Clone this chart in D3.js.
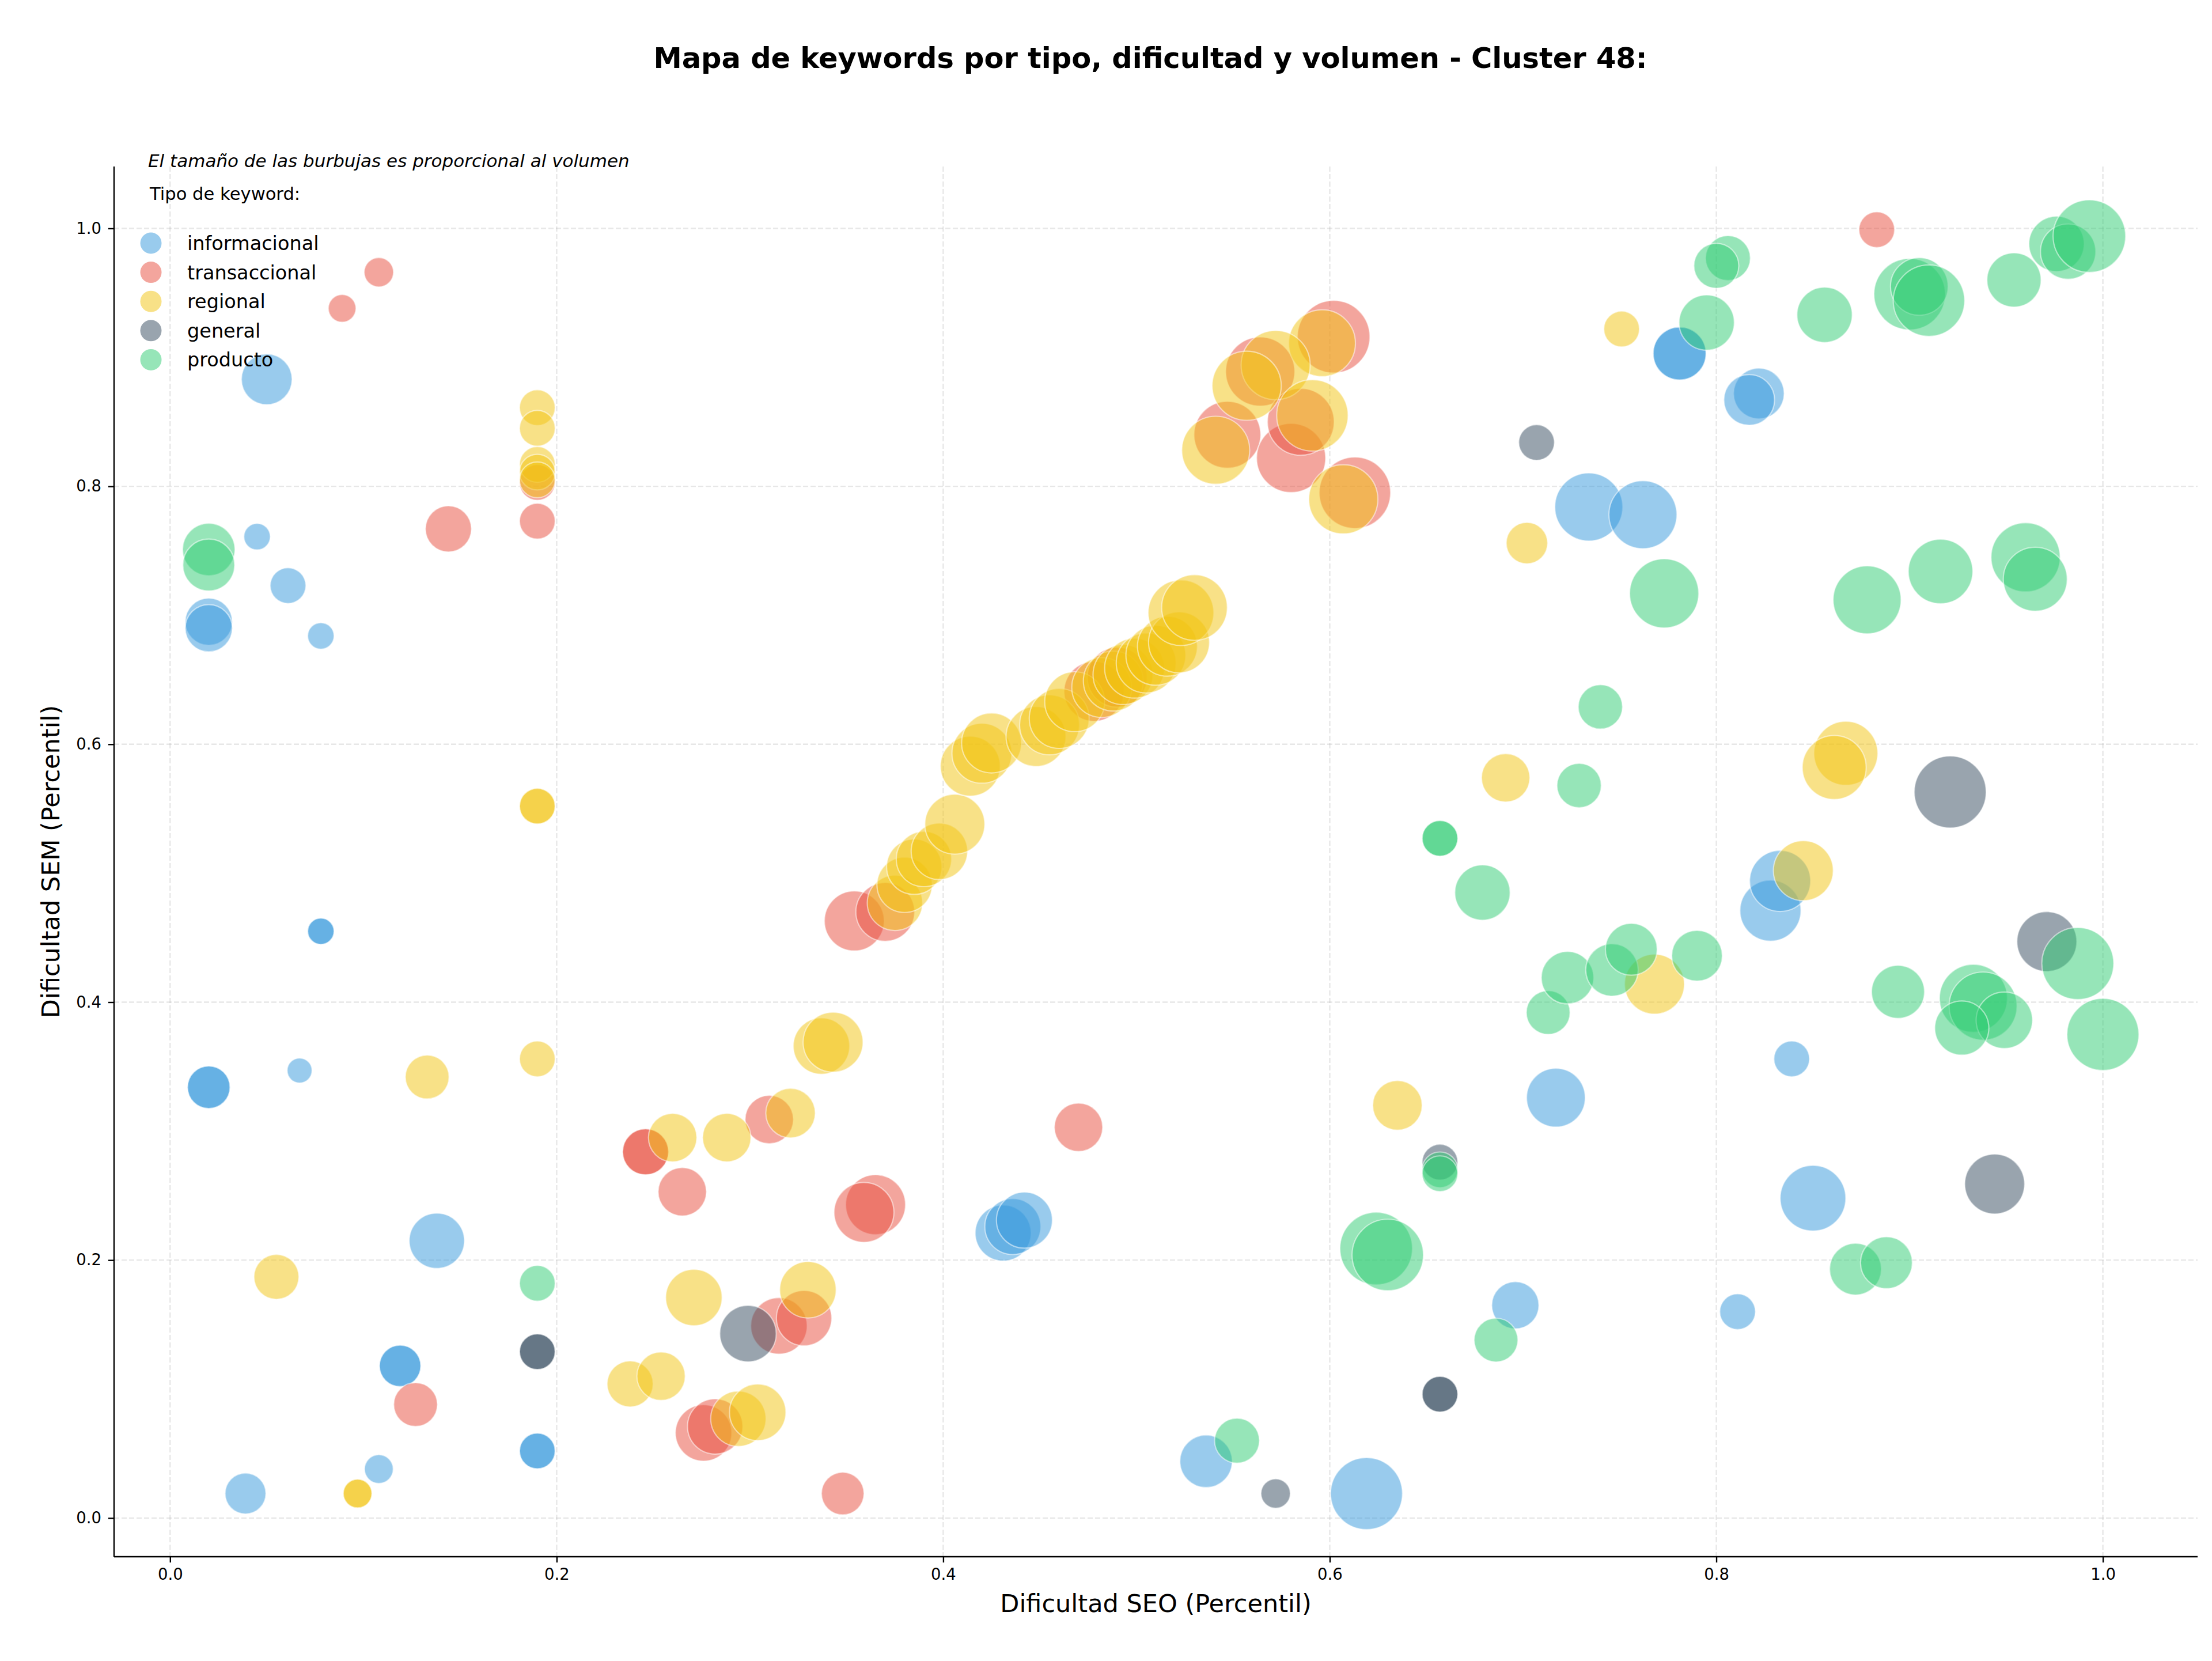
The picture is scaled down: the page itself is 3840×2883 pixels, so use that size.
<!DOCTYPE html>
<html>
<head>
<meta charset="utf-8">
<script src="https://cdn.jsdelivr.net/npm/d3@7"></script>
<style>
	body { margin: 0; background: #fff; }
	text { font-family: "DejaVu Sans", sans-serif; }
</style>
</head>
<body>
<div id="chart-area"></div>
<script>
/*
*    Mapa de keywords - Cluster 48
*    bubble chart: dificultad SEO vs SEM, size = volumen
*/

// [dificultad SEO, dificultad SEM, volumen]
const informacional = [
	[0.050, 0.883, 484], [0.045, 0.761, 132], [0.020, 0.695, 420], [0.020, 0.690, 420],
	[0.061, 0.723, 240], [0.078, 0.684, 132], [0.078, 0.455, 132], [0.078, 0.455, 132],
	[0.020, 0.334, 342], [0.020, 0.334, 342], [0.067, 0.347, 117], [0.138, 0.215, 576],
	[0.119, 0.118, 324], [0.119, 0.118, 324], [0.190, 0.052, 240], [0.190, 0.052, 240],
	[0.108, 0.038, 156], [0.039, 0.019, 315], [0.431, 0.221, 590], [0.436, 0.226, 590],
	[0.442, 0.231, 590], [0.536, 0.044, 518], [0.619, 0.019, 976], [0.717, 0.326, 650],
	[0.696, 0.165, 420], [0.828, 0.471, 702], [0.833, 0.494, 702], [0.839, 0.356, 240],
	[0.850, 0.248, 812], [0.811, 0.160, 240], [0.781, 0.903, 529], [0.781, 0.903, 529],
	[0.822, 0.872, 484], [0.817, 0.867, 484], [0.734, 0.784, 870], [0.762, 0.778, 870]
]

const transaccional = [
	[0.108, 0.966, 163], [0.089, 0.938, 144], [0.190, 0.803, 240], [0.190, 0.773, 240],
	[0.144, 0.767, 400], [0.246, 0.284, 400], [0.246, 0.284, 400], [0.310, 0.309, 441],
	[0.265, 0.253, 441], [0.127, 0.088, 361], [0.315, 0.149, 600], [0.328, 0.155, 576],
	[0.276, 0.066, 600], [0.282, 0.071, 576], [0.348, 0.019, 342], [0.365, 0.243, 676],
	[0.359, 0.237, 676], [0.470, 0.303, 441], [0.354, 0.463, 676], [0.370, 0.470, 650],
	[0.478, 0.641, 676], [0.490, 0.652, 676], [0.602, 0.916, 992], [0.564, 0.889, 900],
	[0.547, 0.840, 841], [0.580, 0.822, 900], [0.585, 0.850, 841], [0.613, 0.795, 961],
	[0.883, 0.999, 240]
]

const regional = [
	[0.190, 0.861, 240], [0.190, 0.845, 240], [0.190, 0.817, 240], [0.190, 0.811, 240],
	[0.190, 0.805, 240], [0.190, 0.552, 240], [0.190, 0.552, 240], [0.133, 0.342, 361],
	[0.190, 0.356, 240], [0.260, 0.295, 441], [0.288, 0.295, 441], [0.321, 0.314, 462],
	[0.055, 0.187, 380], [0.097, 0.019, 156], [0.097, 0.019, 156], [0.238, 0.104, 400],
	[0.254, 0.110, 441], [0.271, 0.171, 600], [0.330, 0.177, 600], [0.294, 0.077, 576],
	[0.304, 0.082, 600], [0.337, 0.366, 600], [0.343, 0.369, 676],
	[0.375, 0.477, 576], [0.380, 0.491, 576], [0.385, 0.505, 576], [0.390, 0.511, 576],
	[0.398, 0.517, 600], [0.406, 0.538, 676], [0.414, 0.583, 676], [0.420, 0.593, 676],
	[0.425, 0.601, 676], [0.448, 0.606, 676], [0.455, 0.615, 676], [0.460, 0.620, 676],
	[0.468, 0.633, 676], [0.482, 0.644, 676], [0.488, 0.649, 676], [0.493, 0.654, 676],
	[0.499, 0.659, 676], [0.505, 0.663, 676], [0.510, 0.669, 676], [0.516, 0.676, 676],
	[0.522, 0.679, 700], [0.523, 0.702, 812], [0.530, 0.706, 812],
	[0.596, 0.911, 841], [0.572, 0.894, 900], [0.557, 0.878, 900], [0.541, 0.828, 870],
	[0.591, 0.855, 961], [0.607, 0.790, 900], [0.635, 0.320, 462], [0.751, 0.922, 240],
	[0.702, 0.756, 324], [0.691, 0.574, 441], [0.867, 0.593, 770], [0.861, 0.582, 770],
	[0.845, 0.502, 676], [0.768, 0.414, 676]
]

const general = [
	[0.190, 0.129, 240], [0.190, 0.129, 240], [0.299, 0.143, 600], [0.572, 0.019, 163],
	[0.657, 0.276, 240], [0.657, 0.096, 240], [0.657, 0.096, 240], [0.707, 0.834, 240],
	[0.921, 0.563, 976], [0.971, 0.447, 676], [0.944, 0.259, 676]
]

const producto = [
	[0.020, 0.751, 518], [0.020, 0.739, 506], [0.190, 0.182, 240], [0.552, 0.060, 380],
	[0.624, 0.209, 992], [0.630, 0.204, 961], [0.657, 0.270, 240], [0.657, 0.267, 240],
	[0.657, 0.527, 240], [0.657, 0.527, 240], [0.679, 0.485, 576], [0.686, 0.138, 361],
	[0.713, 0.392, 361], [0.723, 0.419, 518], [0.746, 0.425, 518], [0.756, 0.441, 506],
	[0.790, 0.436, 484], [0.740, 0.629, 370], [0.729, 0.568, 370], [0.773, 0.717, 900],
	[0.878, 0.712, 870], [0.916, 0.734, 784], [0.960, 0.745, 900], [0.965, 0.728, 770],
	[0.894, 0.408, 529], [0.933, 0.403, 870], [0.938, 0.397, 870], [0.949, 0.386, 600],
	[0.927, 0.380, 552], [0.987, 0.430, 976], [1.000, 0.375, 976], [0.872, 0.193, 506],
	[0.888, 0.198, 506], [0.806, 0.977, 380], [0.800, 0.971, 380], [0.795, 0.927, 576],
	[0.856, 0.933, 576], [0.900, 0.949, 961], [0.905, 0.955, 625], [0.910, 0.944, 961],
	[0.954, 0.960, 552], [0.976, 0.988, 576], [0.982, 0.982, 576], [0.993, 0.994, 992]
]

const tipos = ["informacional", "transaccional", "regional", "general", "producto"]
const series = [informacional, transaccional, regional, general, producto]
const ticks = [0, 0.2, 0.4, 0.6, 0.8, 1.0]

const colores = ["#3498db", "#e74c3c", "#f1c40f", "#34495e", "#2ecc71"]

const MARGIN = {LEFT: 198, RIGHT: 25, TOP: 289, BOTTOM: 181}
const WIDTH = 3840 - MARGIN.LEFT - MARGIN.RIGHT
const HEIGHT = 2883 - MARGIN.TOP - MARGIN.BOTTOM

const svg = d3.select("#chart-area").append("svg")
	.attr("width", 3840)
	.attr("height", 2883)

const g = svg.append("g")
	.attr("transform", `translate(${MARGIN.LEFT}, ${MARGIN.TOP})`)

// matplotlib style 5% margins round the data
const all = series.flat()
const pad = (ext) => [ext[0] - (ext[1] - ext[0]) * 0.05, ext[1] + (ext[1] - ext[0]) * 0.05]

const x = d3.scaleLinear()
	.domain(pad(d3.extent(all, d => d[0])))
	.range([0, WIDTH])

const y = d3.scaleLinear()
	.domain(pad(d3.extent(all, d => d[1])))
	.range([HEIGHT, 0])

const r = d3.scaleSqrt()
	.domain([0, 1000])
	.range([0, 63.2])

const color = d3.scaleOrdinal()
	.domain(tipos)
	.range(colores)

// grid
const grid = g.append("g").attr("class", "grid")
grid.selectAll(".gx").data(ticks).enter().append("line")
	.attr("x1", d => x(d)).attr("x2", d => x(d))
	.attr("y1", 0).attr("y2", HEIGHT)
grid.selectAll(".gy").data(ticks).enter().append("line")
	.attr("x1", 0).attr("x2", WIDTH)
	.attr("y1", d => y(d)).attr("y2", d => y(d))
grid.selectAll("line")
	.attr("stroke", "#b0b0b0")
	.attr("stroke-opacity", 0.3)
	.attr("stroke-width", 2.4)
	.attr("stroke-dasharray", "9,4")

// bubbles, one layer per tipo
tipos.forEach((tipo, i) => {
	g.append("g")
		.attr("class", tipo)
		.selectAll("circle")
		.data(series[i])
		.enter().append("circle")
		.attr("cx", d => x(d[0]))
		.attr("cy", d => y(d[1]))
		.attr("r", d => r(d[2]))
		.attr("fill", color(tipo))
		.attr("fill-opacity", 0.5)
		.attr("stroke", "#fff")
		.attr("stroke-opacity", 0.5)
		.attr("stroke-width", 2.2)
})

// axes
const xAxisCall = d3.axisBottom(x)
	.tickValues(ticks)
	.tickFormat(d3.format(".1f"))
	.tickSize(10)
	.tickSizeOuter(0)
	.tickPadding(10)
const yAxisCall = d3.axisLeft(y)
	.tickValues(ticks)
	.tickFormat(d3.format(".1f"))
	.tickSize(10)
	.tickSizeOuter(0)
	.tickPadding(12)

const xAxis = g.append("g")
	.attr("transform", `translate(0, ${HEIGHT})`)
	.call(xAxisCall)
const yAxis = g.append("g")
	.call(yAxisCall)

;[xAxis, yAxis].forEach(a => {
	a.attr("font-family", "DejaVu Sans").attr("font-size", 27.5)
	a.select(".domain").attr("stroke", "#000").attr("stroke-width", 2.4)
	a.selectAll(".tick line").attr("stroke", "#000").attr("stroke-width", 2.4)
	a.selectAll(".tick text").attr("fill", "#000")
})
xAxis.select(".domain").attr("d", `M0,0H${WIDTH}`)
yAxis.select(".domain").attr("d", `M0,0V${HEIGHT}`)

// labels
svg.append("text")
	.attr("x", 1997)
	.attr("y", 118)
	.attr("font-size", 49.5)
	.attr("font-weight", "bold")
	.attr("text-anchor", "middle")
	.text("Mapa de keywords por tipo, dificultad y volumen - Cluster 48:")

svg.append("text")
	.attr("x", MARGIN.LEFT + WIDTH / 2)
	.attr("y", 2798)
	.attr("font-size", 43)
	.attr("text-anchor", "middle")
	.text("Dificultad SEO (Percentil)")

svg.append("text")
	.attr("transform", `translate(103, ${MARGIN.TOP + HEIGHT / 2}) rotate(-90)`)
	.attr("font-size", 43)
	.attr("text-anchor", "middle")
	.text("Dificultad SEM (Percentil)")

svg.append("text")
	.attr("x", 257)
	.attr("y", 290)
	.attr("font-size", 31)
	.attr("font-style", "italic")
	.text("El tamaño de las burbujas es proporcional al volumen")

// legend
const legend = svg.append("g")
	.attr("transform", "translate(262, 347)")

legend.append("text")
	.attr("x", -2)
	.attr("y", 0)
	.attr("font-size", 30.6)
	.text("Tipo de keyword:")

const items = legend.selectAll(".item")
	.data(tipos)
	.enter().append("g")
	.attr("transform", (d, i) => `translate(0, ${75 + i * 50.6})`)

items.append("circle")
	.attr("r", 18.5)
	.attr("fill", d => color(d))
	.attr("fill-opacity", 0.5)

items.append("text")
	.attr("x", 63)
	.attr("dy", "0.36em")
	.attr("font-size", 33.5)
	.text(d => d)
</script>
</body>
</html>
